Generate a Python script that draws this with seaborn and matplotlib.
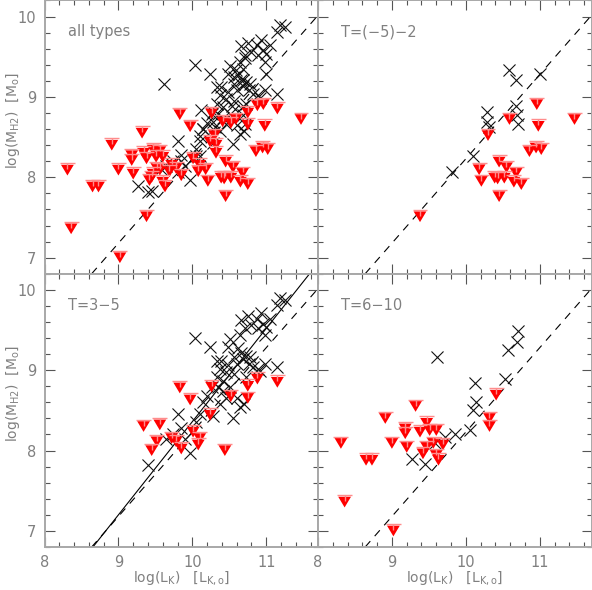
import matplotlib
matplotlib.use("Agg")
import numpy as np
import pandas as pd
import matplotlib.pyplot as plt
from matplotlib.path import Path
from matplotlib.ticker import MultipleLocator
import seaborn as sns

# ---------------- data (log L_K, log M_H2) ----------------
# T = (-5)-2 : detections
early_det_lk = [10.59, 10.68, 11.00, 10.68, 10.28, 10.69, 10.28, 10.71, 10.31, 10.10, 9.81]
early_det_mh = [9.34, 9.21, 9.29, 8.89, 8.81, 8.77, 8.69, 8.66, 8.62, 8.26, 8.06]
# T = (-5)-2 : upper limits
early_lim_lk = [10.96, 10.59, 11.47, 10.98, 10.30, 10.86, 10.95, 11.02, 10.45, 10.55,
                10.18, 10.21, 10.39, 10.43, 10.52, 10.68, 10.65, 10.75, 10.45, 9.38]
early_lim_mh = [8.915, 8.73, 8.73, 8.645, 8.53, 8.33, 8.375, 8.355, 8.20, 8.13,
                8.105, 7.96, 8.00, 7.99, 8.00, 8.06, 7.95, 7.92, 7.77, 7.52]

# T = 3-5 : detections
mid_det_lk = [11.25, 11.18, 11.14, 10.93, 10.87, 10.96, 11.00, 10.89, 10.80, 11.05,
              10.75, 10.66, 10.71, 10.98, 10.64,
              10.03, 10.24, 10.51, 10.48, 10.62, 10.66, 10.73, 10.78, 10.69, 10.57,
              10.60, 10.76, 10.82, 11.14, 10.98, 10.39, 10.33, 10.48, 10.37, 10.46,
              10.57, 10.89,
              10.33, 10.42, 10.26, 10.35, 10.42, 10.51, 10.73, 10.91,
              10.28, 10.55, 10.64, 10.37, 10.46, 10.15, 10.20, 10.60, 10.70,
              9.40, 9.81, 9.97, 9.65, 9.74, 9.85, 9.90, 10.05, 10.10]
mid_det_mh = [9.87, 9.90, 9.81, 9.71, 9.64, 9.58, 9.54, 9.52, 9.56, 9.64,
              9.67, 9.63, 9.52, 9.44, 9.44,
              9.40, 9.29, 9.39, 9.29, 9.27, 9.21, 9.18, 9.16, 9.14, 9.16,
              9.08, 9.08, 9.04, 9.04, 9.08, 9.12, 9.12, 9.06, 9.02, 8.98,
              8.95, 9.02,
              8.91, 8.87, 8.79, 8.79, 8.74, 8.79, 8.91, 8.99,
              8.43, 8.41, 8.54, 8.58, 8.66, 8.60, 8.68, 8.65, 8.58,
              7.82, 8.45, 7.97, 8.14, 8.20, 8.28, 8.14, 8.35, 8.45]
# T = 3-5 : upper limits
mid_lim_lk = [9.34, 9.56, 9.45, 9.52, 9.72, 9.78, 9.83, 9.85, 9.97, 10.01,
              10.08, 10.10, 10.26, 10.24, 10.44, 10.52, 10.75, 10.75, 10.88, 11.15]
mid_lim_mh = [8.31, 8.33, 8.01, 8.12, 8.16, 8.12, 8.79, 8.03, 8.64, 8.24,
              8.08, 8.16, 8.80, 8.45, 8.01, 8.68, 8.81, 8.66, 8.90, 8.86]

# T = 6-10 : detections
late_det_lk = [9.61, 10.71, 10.69, 10.57, 10.53, 10.12, 10.14, 10.10, 10.05, 9.85,
               9.72, 9.27, 9.45, 9.58]
late_det_mh = [9.16, 9.49, 9.35, 9.25, 8.89, 8.84, 8.60, 8.51, 8.26, 8.20,
               8.17, 7.89, 7.83, 8.10]
# T = 6-10 : upper limits
late_lim_lk = [8.31, 8.36, 8.65, 8.73, 8.91, 9.00, 9.02, 9.18, 9.18, 9.20,
               9.32, 9.38, 9.42, 9.47, 9.51, 9.47, 9.60, 9.56, 9.60, 9.63,
               9.69, 10.41, 10.32, 10.32]
late_lim_mh = [8.10, 7.37, 7.89, 7.89, 8.41, 8.10, 7.01, 8.28, 8.22, 8.05,
               8.56, 8.24, 7.97, 8.35, 8.26, 8.05, 8.26, 8.10, 7.95, 7.89,
               8.08, 8.70, 8.41, 8.31]

panel_titles = ["all types", "T=(\u22125)\u22122", "T=3\u22125", "T=6\u221210"]
x_ticks = [8, 9, 10, 11]
y_ticks = [7, 8, 9, 10]

# reference relations (slope, intercept)
dash_slope, dash_icpt = 1.05, -2.27
solid_slope, solid_icpt = 1.16, -3.24

# ---------------- tables ----------------
def table(lk, mh, group, kind):
    return pd.DataFrame({"lk": lk, "mh": mh, "group": group, "kind": kind})

df = pd.concat([
    table(early_det_lk, early_det_mh, "early", "det"),
    table(early_lim_lk, early_lim_mh, "early", "lim"),
    table(mid_det_lk, mid_det_mh, "mid", "det"),
    table(mid_lim_lk, mid_lim_mh, "mid", "lim"),
    table(late_det_lk, late_det_mh, "late", "det"),
    table(late_lim_lk, late_lim_mh, "late", "lim"),
], ignore_index=True)

# ---------------- style ----------------
sns.set_style("ticks")
plt.rcParams["font.family"] = ["DejaVu Sans"]
plt.rcParams["mathtext.fontset"] = "dejavusans"
GRAY_TXT = "#808080"
SPINE = "#a8a8a8"
TICK = "#555555"

# upper-limit symbol: filled triangle + light bar/shaft (same normalisation)
tri_path = Path([(-0.43, 0.30), (0.43, 0.30), (0.0, -0.42), (-0.43, 0.30), (0.5, 0.4)],
                [Path.MOVETO, Path.LINETO, Path.LINETO, Path.CLOSEPOLY, Path.MOVETO])
bar_path = Path([(-0.5, 0.4), (0.5, 0.4), (0.0, 0.4), (0.0, 0.0)],
                [Path.MOVETO, Path.LINETO, Path.MOVETO, Path.LINETO])

fig = plt.figure(figsize=(5.92, 5.90), dpi=100)
L, W = 44.5 / 592, 273.5 / 592
B = 1 - 547 / 590
H = (1 - B - 0.0008) / 2
positions = [(L, B + H), (L + W, B + H), (L, B), (L + W, B)]
groups = [None, "early", "mid", "late"]

for i, (pos, grp, title) in enumerate(zip(positions, groups, panel_titles)):
    ax = fig.add_axes([pos[0], pos[1], W, H])
    sub = df if grp is None else df[df["group"] == grp]
    det = sub[sub["kind"] == "det"]
    lim = sub[sub["kind"] == "lim"]

    ax.axline((0, dash_icpt), slope=dash_slope, color="black", lw=0.8,
              linestyle=(0, (7, 6)), zorder=1)
    if grp == "mid":
        ax.axline((0, solid_icpt), slope=solid_slope, color="black", lw=0.8, zorder=1)

    sns.scatterplot(data=det, x="lk", y="mh", ax=ax, marker="x", color="#111111",
                    s=75, linewidth=0.8, legend=False, zorder=2)
    sns.scatterplot(data=lim, x="lk", y="mh", ax=ax, marker=tri_path, color="#ff0000",
                    facecolor="#ff0000", edgecolor="none", linewidth=0, s=115,
                    legend=False, zorder=3)
    sns.scatterplot(data=lim, x="lk", y="mh", ax=ax, marker=bar_path, color="#ff8c8c",
                    facecolor="none", edgecolor="#ff8c8c", linewidth=1.0, s=115,
                    legend=False, zorder=4)

    ax.set_xlim(8, 11.7)
    ax.set_ylim(6.8, 10.2)
    ax.xaxis.set_major_locator(MultipleLocator(1))
    ax.xaxis.set_minor_locator(MultipleLocator(0.2))
    ax.yaxis.set_major_locator(MultipleLocator(1))
    ax.yaxis.set_minor_locator(MultipleLocator(0.2))
    ax.tick_params(which="both", direction="in", top=True, right=True,
                   color=TICK, labelcolor=GRAY_TXT, labelsize=10.5)
    ax.tick_params(which="major", length=7, width=0.8, pad=6)
    ax.tick_params(which="minor", length=3.5, width=0.8)
    for sp in ax.spines.values():
        sp.set_color(SPINE)
        sp.set_linewidth(1.4)

    ax.text(0.085, 0.885, title, transform=ax.transAxes, fontsize=10.5,
            color=GRAY_TXT, ha="left", va="center")

    if i in (0, 2):
        ax.set_yticks(y_ticks)
        ax.set_ylabel(r"log(M$_{\rm H2}$)  [M$_{\rm o}$]", color=GRAY_TXT, fontsize=10)
        ax.yaxis.set_label_coords(-0.083, 0.56)
    else:
        ax.set_ylabel("")
        ax.tick_params(labelleft=False)
    if i in (2, 3):
        ax.set_xticks(x_ticks)
        ax.set_xlabel(r"log(L$_{\rm K}$)   [L$_{\rm K,o}$]", color=GRAY_TXT, fontsize=10)
        ax.xaxis.label.set_va("center")
        ax.xaxis.set_label_coords(0.5, -0.113)
    else:
        ax.set_xlabel("")
        ax.tick_params(labelbottom=False)

fig.savefig("out.png", dpi=100)
